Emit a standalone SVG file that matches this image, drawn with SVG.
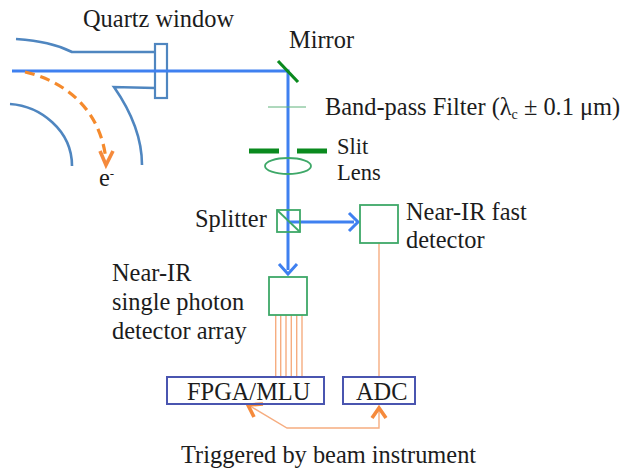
<svg xmlns="http://www.w3.org/2000/svg" width="628" height="476" viewBox="0 0 628 476">
<defs>
<style>
text{font-family:"Liberation Serif","Times New Roman",serif;font-size:24.4px;fill:#1c1c1c}
text.tight{font-size:22.5px}
.tube{fill:none;stroke:#4f86c0;stroke-width:2.6}
.beam{fill:none;stroke:#3f80f0;stroke-width:3}
.green{fill:none;stroke:#3ea868;stroke-width:1.8}
.dk{fill:none;stroke:#0a8a1e}
.sig{fill:none;stroke:#f6ad80;stroke-width:1.4}
.blk{fill:none;stroke:#4a55b0;stroke-width:2}
.head{fill:none;stroke:#f58a3c;stroke-width:3.6}
</style>
</defs>
<rect width="628" height="476" fill="#fff"/>
<g id="chamber">
<path class="tube" d="M16,39C40,41 56,44 72,52L155,52"/>
<path class="tube" d="M155,88L114,87C130,110 142,135 142,165"/>
<path class="tube" d="M10,104C40,106 72,130 72,166"/>
<rect id="quartz-window" x="155" y="44" width="12" height="54" fill="none" stroke="#4f86c0" stroke-width="2.2"/>
</g>
<g id="connectors">
<path class="beam" d="M12,71H288V270"/>
<path class="beam" d="M288,222H354"/>
<path class="beam" stroke-width="3.6" d="M349,213L358,222L349,231"/>
<path class="beam" stroke-width="3.6" d="M279,264L288,274L297,264"/>
<path d="M25,72C60,80 100,105 106,160" fill="none" stroke="#f58a2c" stroke-width="3.2" stroke-dasharray="10 6"/>
<path class="head" d="M100,151L106,165L113,151"/>
<path class="sig" d="M275.700,315V377M280.700,315V377M286,315V377M291.300,315V377M296.700,315V377M302,315V377"/>
<path class="sig" d="M379,243V377"/>
<path class="sig" d="M250,406L287,428H379V408"/>
<path class="head" d="M254,417L248,405L263,404"/>
<path class="head" d="M372,418L379,408L386,418"/>
</g>
<g id="mirror"><path class="dk" stroke-width="3.200" d="M278,61L298,82"/><text x="289" y="48">Mirror</text></g>
<g id="filter"><path d="M268,107H306" fill="none" stroke="#5fb27a" stroke-width="1"/><text x="325" y="115">Band-pass Filter (λ<tspan font-size="14" dy="4">c</tspan><tspan dy="-4"> ± 0.1 μm)</tspan></text></g>
<g id="slit"><path class="dk" stroke-width="5" d="M249,151H279M297,151H327"/><text class="tight" x="337" y="154">Slit</text></g>
<g id="lens"><ellipse class="green" cx="288" cy="166" rx="23" ry="8" stroke="#2f9a4e"/><text class="tight" x="337" y="180">Lens</text></g>
<g id="splitter"><rect class="green" x="277" y="210" width="23" height="22"/><path class="green" d="M277,210L300,232" stroke-width="1.200"/><text x="195" y="227">Splitter</text></g>
<g id="fast-detector"><rect class="green" x="360" y="205" width="38" height="38"/><text x="406" y="220">Near-IR fast</text><text x="406" y="248">detector</text></g>
<g id="array-detector"><rect class="green" x="269" y="277" width="38" height="38"/><text x="112" y="281">Near-IR</text><text x="112" y="310">single photon</text><text x="112" y="339">detector array</text></g>
<g id="fpga"><rect class="blk" x="167" y="377" width="157" height="27"/><text x="187" y="400">FPGA/MLU</text></g>
<g id="adc"><rect class="blk" x="343" y="377" width="72" height="27"/><text x="356" y="400">ADC</text></g>
<g id="labels"><text x="83" y="27">Quartz window</text><text x="99" y="186">e<tspan font-size="13" dy="-8">-</tspan></text><text x="181" y="463">Triggered by beam instrument</text></g>
</svg>
